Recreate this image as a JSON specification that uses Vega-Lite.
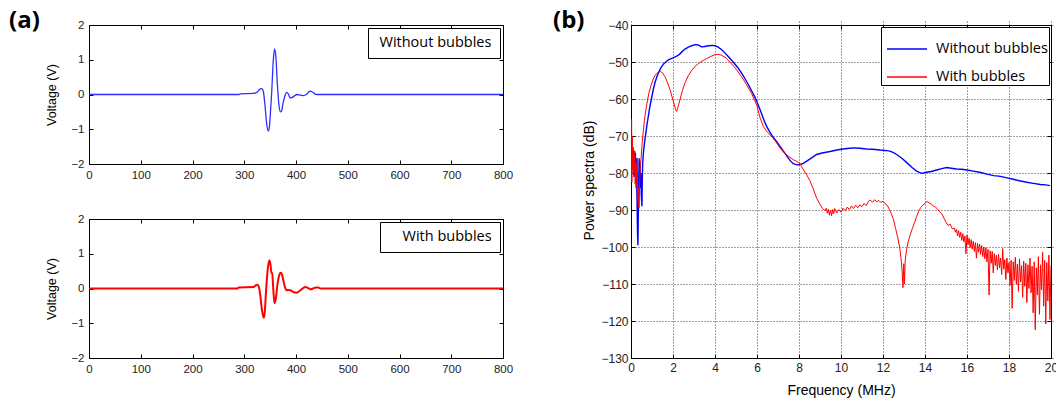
{
  "$schema": "https://vega.github.io/schema/vega-lite/v6.json",
  "padding": {"left": 8, "top": 8, "right": 0, "bottom": 0},
  "background": "white",
  "config": {
    "view": {"stroke": "#000", "strokeWidth": 1},
    "axis": {
      "labelFont": "Liberation Sans", "labelFontSize": 11.5, "labelColor": "#222",
      "titleFont": "Liberation Sans", "titleFontWeight": "normal", "titleColor": "#000",
      "tickColor": "#000", "domain": false, "labelFlush": false, "labelOverlap": false,
      "offset": -4, "tickSize": 4, "grid": false
    }
  },
  "datasets": {
    "a1": [
      {"t":0,"v":0},{"t":290,"v":0},{"t":292,"v":0.02},{"t":318,"v":0.03},{"t":326,"v":0.08},{"t":331,"v":0.16},{"t":334,"v":0.17},{"t":337,"v":0.08},{"t":340,"v":-0.3},{"t":343,"v":-0.8},{"t":346.5,"v":-1.05},{"t":348.5,"v":-0.95},{"t":350.5,"v":-0.55},{"t":353,"v":0.05},{"t":356,"v":0.95},{"t":358.5,"v":1.31},{"t":361,"v":1.1},{"t":364,"v":0.3},{"t":367,"v":-0.3},{"t":370,"v":-0.5},{"t":372,"v":-0.48},{"t":375,"v":-0.25},{"t":379,"v":-0.02},{"t":382,"v":0.06},{"t":385,"v":0.02},{"t":389,"v":-0.1},{"t":392,"v":-0.09},{"t":397,"v":-0.04},{"t":402,"v":0.0},{"t":408,"v":-0.02},{"t":414,"v":-0.03},{"t":420,"v":0.0},{"t":427,"v":0.1},{"t":431,"v":0.08},{"t":436,"v":0.02},{"t":440,"v":0.0},{"t":800,"v":0}
    ],
    "a2": [
      {"t":0,"v":0},{"t":287,"v":0},{"t":289,"v":0.03},{"t":318,"v":0.04},{"t":322,"v":0.09},{"t":325,"v":0.11},{"t":328,"v":0.06},{"t":331,"v":-0.2},{"t":334,"v":-0.6},{"t":337.5,"v":-0.84},{"t":339.5,"v":-0.7},{"t":342,"v":-0.1},{"t":345,"v":0.5},{"t":348.5,"v":0.81},{"t":351,"v":0.65},{"t":352.5,"v":0.45},{"t":354,"v":0.45},{"t":356,"v":0.0},{"t":358.5,"v":-0.42},{"t":361,"v":-0.3},{"t":364,"v":0.1},{"t":367,"v":0.35},{"t":370.5,"v":0.45},{"t":373,"v":0.4},{"t":376,"v":0.2},{"t":379,"v":0.02},{"t":382,"v":-0.05},{"t":386,"v":-0.04},{"t":391,"v":-0.06},{"t":396,"v":-0.11},{"t":401,"v":-0.12},{"t":406,"v":-0.08},{"t":412,"v":-0.01},{"t":418,"v":0.04},{"t":423,"v":0.02},{"t":428,"v":-0.02},{"t":433,"v":0.0},{"t":438,"v":0.03},{"t":443,"v":0.03},{"t":447,"v":0.0},{"t":800,"v":0}
    ],
    "bw": [
      {"f":0.05,"p":-74},{"f":0.07,"p":-79},{"f":0.09,"p":-73.5},{"f":0.11,"p":-80},{"f":0.13,"p":-74},{"f":0.15,"p":-81},{"f":0.17,"p":-75},{"f":0.19,"p":-79.5},{"f":0.21,"p":-74.5},{"f":0.23,"p":-80.5},{"f":0.25,"p":-76},{"f":0.27,"p":-82},{"f":0.29,"p":-88},{"f":0.31,"p":-96},{"f":0.33,"p":-99.5},{"f":0.35,"p":-90},{"f":0.37,"p":-81},{"f":0.39,"p":-76},{"f":0.41,"p":-82},{"f":0.43,"p":-77},{"f":0.45,"p":-84},{"f":0.47,"p":-80},{"f":0.49,"p":-86},{"f":0.52,"p":-89},{"f":0.54,"p":-81},{"f":0.56,"p":-77},{"f":0.6,"p":-74},{"f":0.65,"p":-71.5},{"f":0.7,"p":-69.5},{"f":0.76,"p":-67},{"f":0.83,"p":-64.5},{"f":0.9,"p":-62},{"f":0.98,"p":-59.8},{"f":1.06,"p":-57.5},{"f":1.14,"p":-55.6},{"f":1.22,"p":-54.2},{"f":1.3,"p":-53},{"f":1.42,"p":-51.6},{"f":1.54,"p":-50.6},{"f":1.66,"p":-50},{"f":1.78,"p":-49.4},{"f":1.94,"p":-49},{"f":2.1,"p":-48.6},{"f":2.22,"p":-48.3},{"f":2.33,"p":-47.8},{"f":2.45,"p":-47.1},{"f":2.57,"p":-46.5},{"f":2.73,"p":-46},{"f":2.89,"p":-45.6},{"f":3.05,"p":-45.3},{"f":3.2,"p":-45.4},{"f":3.35,"p":-45.9},{"f":3.5,"p":-45.8},{"f":3.7,"p":-45.6},{"f":3.85,"p":-45.5},{"f":4.0,"p":-45.6},{"f":4.15,"p":-46},{"f":4.32,"p":-46.7},{"f":4.48,"p":-47.6},{"f":4.63,"p":-48.5},{"f":4.8,"p":-49.6},{"f":4.95,"p":-50.6},{"f":5.11,"p":-51.7},{"f":5.3,"p":-53.3},{"f":5.5,"p":-55.2},{"f":5.7,"p":-57.3},{"f":5.9,"p":-59.5},{"f":6.05,"p":-61.5},{"f":6.22,"p":-64},{"f":6.35,"p":-66},{"f":6.46,"p":-67.4},{"f":6.6,"p":-68.8},{"f":6.75,"p":-70.2},{"f":6.94,"p":-71.5},{"f":7.1,"p":-72.8},{"f":7.25,"p":-74},{"f":7.41,"p":-75.3},{"f":7.57,"p":-76.6},{"f":7.73,"p":-77.5},{"f":7.9,"p":-77.8},{"f":8.05,"p":-77.7},{"f":8.2,"p":-77.4},{"f":8.37,"p":-76.8},{"f":8.6,"p":-75.9},{"f":8.84,"p":-75.0},{"f":9.1,"p":-74.6},{"f":9.48,"p":-74.2},{"f":9.8,"p":-73.8},{"f":10.1,"p":-73.5},{"f":10.4,"p":-73.3},{"f":10.6,"p":-73.2},{"f":10.9,"p":-73.3},{"f":11.2,"p":-73.5},{"f":11.5,"p":-73.6},{"f":11.86,"p":-73.8},{"f":12.1,"p":-73.9},{"f":12.33,"p":-74.1},{"f":12.5,"p":-74.5},{"f":12.65,"p":-75},{"f":12.9,"p":-76},{"f":13.13,"p":-77.2},{"f":13.4,"p":-78.6},{"f":13.6,"p":-79.5},{"f":13.84,"p":-80.1},{"f":14.08,"p":-79.8},{"f":14.3,"p":-79.6},{"f":14.55,"p":-79.2},{"f":14.8,"p":-78.8},{"f":15.03,"p":-78.5},{"f":15.25,"p":-78.7},{"f":15.5,"p":-78.9},{"f":15.75,"p":-79},{"f":16.0,"p":-79.2},{"f":16.3,"p":-79.5},{"f":16.6,"p":-79.8},{"f":16.95,"p":-80.3},{"f":17.27,"p":-80.7},{"f":17.6,"p":-80.9},{"f":17.9,"p":-81.3},{"f":18.2,"p":-81.7},{"f":18.5,"p":-82.1},{"f":18.85,"p":-82.5},{"f":19.16,"p":-82.8},{"f":19.5,"p":-83.1},{"f":19.75,"p":-83.2},{"f":19.95,"p":-83.4}
    ],
    "br": [
      {"f":0.03,"p":-65.5},{"f":0.04,"p":-82.5},{"f":0.06,"p":-70},{"f":0.08,"p":-79},{"f":0.1,"p":-73},{"f":0.12,"p":-81},{"f":0.14,"p":-75},{"f":0.16,"p":-80},{"f":0.18,"p":-74},{"f":0.2,"p":-83},{"f":0.22,"p":-77},{"f":0.24,"p":-84},{"f":0.26,"p":-78},{"f":0.28,"p":-82},{"f":0.3,"p":-76},{"f":0.32,"p":-85},{"f":0.34,"p":-88.5},{"f":0.36,"p":-84},{"f":0.38,"p":-89.5},{"f":0.4,"p":-86},{"f":0.42,"p":-81},{"f":0.44,"p":-78},{"f":0.48,"p":-76},{"f":0.53,"p":-72},{"f":0.59,"p":-68.5},{"f":0.64,"p":-65.8},{"f":0.7,"p":-63.2},{"f":0.78,"p":-60.5},{"f":0.86,"p":-58.2},{"f":0.96,"p":-56.2},{"f":1.06,"p":-54.6},{"f":1.14,"p":-53.7},{"f":1.22,"p":-53.1},{"f":1.32,"p":-52.7},{"f":1.41,"p":-52.6},{"f":1.5,"p":-52.9},{"f":1.62,"p":-54},{"f":1.74,"p":-55.6},{"f":1.86,"p":-57.5},{"f":1.96,"p":-59.5},{"f":2.05,"p":-61.3},{"f":2.12,"p":-62.8},{"f":2.17,"p":-63.4},{"f":2.22,"p":-62.5},{"f":2.33,"p":-60.2},{"f":2.45,"p":-57.7},{"f":2.57,"p":-55.6},{"f":2.73,"p":-53.7},{"f":2.89,"p":-52.3},{"f":3.05,"p":-51.2},{"f":3.21,"p":-50.4},{"f":3.4,"p":-49.7},{"f":3.6,"p":-49.1},{"f":3.8,"p":-48.5},{"f":4.0,"p":-48},{"f":4.15,"p":-47.9},{"f":4.32,"p":-48.2},{"f":4.55,"p":-49},{"f":4.79,"p":-50.5},{"f":5.03,"p":-52.1},{"f":5.27,"p":-54},{"f":5.5,"p":-56.1},{"f":5.75,"p":-58.6},{"f":6.0,"p":-61.8},{"f":6.14,"p":-65},{"f":6.3,"p":-67.4},{"f":6.5,"p":-69},{"f":6.7,"p":-70.1},{"f":6.9,"p":-71.6},{"f":7.1,"p":-73.3},{"f":7.3,"p":-74.6},{"f":7.5,"p":-75.5},{"f":7.73,"p":-76.4},{"f":7.9,"p":-76.9},{"f":8.05,"p":-77.5},{"f":8.2,"p":-79},{"f":8.37,"p":-80.5},{"f":8.52,"p":-82.1},{"f":8.7,"p":-84.6},{"f":8.84,"p":-86.8},{"f":9.0,"p":-88.5},{"f":9.12,"p":-89.6},{"f":9.24,"p":-90.2},{"f":9.3,"p":-89.5},{"f":9.35,"p":-90.9},{"f":9.4,"p":-89.8},{"f":9.45,"p":-91.4},{"f":9.5,"p":-90.0},{"f":9.55,"p":-91.6},{"f":9.6,"p":-89.9},{"f":9.65,"p":-91.0},{"f":9.7,"p":-89.6},{"f":9.8,"p":-90.8},{"f":9.9,"p":-89.9},{"f":10.0,"p":-90.6},{"f":10.1,"p":-89.5},{"f":10.2,"p":-90.2},{"f":10.3,"p":-89.2},{"f":10.4,"p":-89.9},{"f":10.5,"p":-88.9},{"f":10.6,"p":-89.6},{"f":10.7,"p":-88.7},{"f":10.8,"p":-89.4},{"f":10.9,"p":-88.6},{"f":11.0,"p":-89.1},{"f":11.1,"p":-88.2},{"f":11.2,"p":-88.8},{"f":11.3,"p":-87.7},{"f":11.4,"p":-87.3},{"f":11.5,"p":-87.9},{"f":11.6,"p":-87.2},{"f":11.7,"p":-87.8},{"f":11.8,"p":-87.4},{"f":11.9,"p":-88.0},{"f":12.0,"p":-87.6},{"f":12.1,"p":-88.3},{"f":12.2,"p":-88.7},{"f":12.3,"p":-89.8},{"f":12.4,"p":-91.0},{"f":12.5,"p":-92.6},{"f":12.6,"p":-95.0},{"f":12.7,"p":-97.4},{"f":12.8,"p":-100.3},{"f":12.86,"p":-103.2},{"f":12.91,"p":-106.5},{"f":12.95,"p":-111.0},{"f":12.99,"p":-104.5},{"f":13.02,"p":-110.0},{"f":13.06,"p":-103.5},{"f":13.12,"p":-100.8},{"f":13.2,"p":-98.6},{"f":13.3,"p":-96.6},{"f":13.4,"p":-95.0},{"f":13.5,"p":-93.4},{"f":13.6,"p":-91.8},{"f":13.7,"p":-90.3},{"f":13.8,"p":-89.3},{"f":13.9,"p":-88.7},{"f":14.0,"p":-88.2},{"f":14.1,"p":-87.7},{"f":14.2,"p":-88.1},{"f":14.3,"p":-88.4},{"f":14.4,"p":-88.9},{"f":14.5,"p":-89.2},{"f":14.6,"p":-89.8},{"f":14.7,"p":-90.5},{"f":14.8,"p":-91.0},{"f":14.9,"p":-92.2},{"f":15.0,"p":-93.3},{"f":15.1,"p":-94.2},{"f":15.2,"p":-93.8},{"f":15.3,"p":-95.1},{"f":15.4,"p":-94.9},{"f":15.45,"p":-96.0},
      {"f":15.5,"p":-95.2},{"f":15.55,"p":-97.0},{"f":15.6,"p":-95.6},{"f":15.65,"p":-97.4},{"f":15.7,"p":-96.0},{"f":15.75,"p":-98.2},{"f":15.8,"p":-96.4},{"f":15.85,"p":-98.6},{"f":15.9,"p":-97.0},{"f":15.95,"p":-101.8},{"f":16.0,"p":-96.8},{"f":16.05,"p":-99.4},{"f":16.1,"p":-97.6},{"f":16.15,"p":-100.2},{"f":16.2,"p":-98.0},{"f":16.25,"p":-100.6},{"f":16.3,"p":-98.4},{"f":16.35,"p":-101.2},{"f":16.4,"p":-98.8},{"f":16.45,"p":-103.0},{"f":16.5,"p":-99.0},{"f":16.55,"p":-101.4},{"f":16.6,"p":-99.2},{"f":16.65,"p":-102.0},{"f":16.7,"p":-99.6},{"f":16.75,"p":-102.6},{"f":16.8,"p":-100.0},{"f":16.85,"p":-103.2},{"f":16.9,"p":-100.2},{"f":16.95,"p":-104.0},{"f":17.0,"p":-100.6},{"f":17.05,"p":-113.0},{"f":17.1,"p":-101.0},{"f":17.15,"p":-104.4},{"f":17.2,"p":-101.2},{"f":17.25,"p":-107.0},{"f":17.3,"p":-101.8},{"f":17.35,"p":-105.0},{"f":17.4,"p":-102.2},{"f":17.45,"p":-106.2},{"f":17.5,"p":-102.0},{"f":17.55,"p":-105.6},{"f":17.6,"p":-103.0},{"f":17.65,"p":-107.4},{"f":17.7,"p":-100.4},{"f":17.75,"p":-106.0},{"f":17.8,"p":-103.4},{"f":17.85,"p":-108.8},{"f":17.9,"p":-103.0},{"f":17.95,"p":-107.0},{"f":18.0,"p":-104.2},{"f":18.05,"p":-110.4},{"f":18.1,"p":-103.6},{"f":18.15,"p":-116.6},{"f":18.2,"p":-104.0},{"f":18.25,"p":-109.0},{"f":18.3,"p":-102.8},{"f":18.35,"p":-110.0},{"f":18.4,"p":-104.6},{"f":18.45,"p":-112.0},{"f":18.5,"p":-103.2},{"f":18.55,"p":-109.4},{"f":18.6,"p":-105.0},{"f":18.65,"p":-113.6},{"f":18.7,"p":-103.8},{"f":18.75,"p":-110.6},{"f":18.8,"p":-104.4},{"f":18.85,"p":-115.0},{"f":18.9,"p":-104.8},{"f":18.95,"p":-111.2},{"f":19.0,"p":-103.0},{"f":19.05,"p":-112.4},{"f":19.1,"p":-105.2},{"f":19.15,"p":-117.8},{"f":19.2,"p":-104.0},{"f":19.25,"p":-122.4},{"f":19.3,"p":-105.6},{"f":19.35,"p":-113.0},{"f":19.4,"p":-102.6},{"f":19.45,"p":-118.2},{"f":19.5,"p":-104.8},{"f":19.55,"p":-111.6},{"f":19.6,"p":-101.4},{"f":19.65,"p":-116.0},{"f":19.7,"p":-103.6},{"f":19.75,"p":-120.8},{"f":19.8,"p":-104.2},{"f":19.85,"p":-114.6},{"f":19.9,"p":-102.2},{"f":19.95,"p":-119.6},{"f":20.0,"p":-105.0}
    ]
  },
  "spacing": 38,
  "resolve": {"scale": {"color": "independent"}, "legend": {"color": "independent"}},
  "hconcat": [
    {
      "bounds": "flush",
      "spacing": 55,
      "resolve": {"scale": {"color": "independent"}, "legend": {"color": "independent"}},
      "vconcat": [
        {
          "width": 414, "height": 139,
          "title": {"text": "(a)", "anchor": "start", "frame": "group", "dx": -80, "offset": -33, "baseline": "alphabetic", "font": "Open Sans", "fontSize": 24, "fontWeight": "bold", "color": "#000"},
          "data": {"name": "a1"},
          "layer": [
            {
              "mark": {"type": "line", "interpolate": "monotone", "strokeWidth": 1.3, "clip": true},
              "encoding": {
                "x": {"field": "t", "type": "quantitative", "scale": {"domain": [0, 800], "nice": false},
                      "axis": {"orient": "bottom", "values": [0,100,200,300,400,500,600,700,800], "labelPadding": 5, "title": null}},
                "y": {"field": "v", "type": "quantitative", "scale": {"domain": [-2, 2], "nice": false},
                      "axis": {"orient": "left", "values": [-2,-1,0,1,2], "labelPadding": 5, "title": "Voltage (V)", "titleFontSize": 12.5, "titlePadding": 12}},
                "color": {"datum": "Without bubbles", "type": "nominal", "scale": {"range": ["#2f2fff"]},
                          "legend": {"orient": "top-right", "offset": 3, "title": null, "symbolSize": 0, "symbolStrokeWidth": 0, "symbolOpacity": 0, "labelFont": "Open Sans", "labelFontSize": 14.5, "labelColor": "#000", "strokeColor": "#000", "fillColor": "#fff", "padding": 8, "labelOffset": -11}}
              }
            },
            {
              "mark": {"type": "line", "opacity": 0},
              "encoding": {
                "x": {"field": "t", "type": "quantitative", "axis": {"orient": "top", "values": [0,100,200,300,400,500,600,700,800], "labels": false, "title": null}},
                "y": {"field": "v", "type": "quantitative", "axis": {"orient": "right", "values": [-2,-1,0,1,2], "labels": false, "title": null}}
              }
            }
          ],
          "resolve": {"axis": {"x": "independent", "y": "independent"}}
        },
        {
          "width": 414, "height": 139,
          "data": {"name": "a2"},
          "layer": [
            {
              "mark": {"type": "line", "interpolate": "monotone", "strokeWidth": 2, "clip": true},
              "encoding": {
                "x": {"field": "t", "type": "quantitative", "scale": {"domain": [0, 800], "nice": false},
                      "axis": {"orient": "bottom", "values": [0,100,200,300,400,500,600,700,800], "labelPadding": 5, "title": null}},
                "y": {"field": "v", "type": "quantitative", "scale": {"domain": [-2, 2], "nice": false},
                      "axis": {"orient": "left", "values": [-2,-1,0,1,2], "labelPadding": 5, "title": "Voltage (V)", "titleFontSize": 12.5, "titlePadding": 12}},
                "color": {"datum": "With bubbles", "type": "nominal", "scale": {"range": ["#ff0000"]},
                          "legend": {"orient": "top-right", "offset": 3, "title": null, "symbolSize": 0, "symbolStrokeWidth": 0, "symbolOpacity": 0, "labelFont": "Open Sans", "labelFontSize": 14.5, "labelColor": "#000", "strokeColor": "#000", "fillColor": "#fff", "padding": 8, "labelOffset": 0}}
              }
            },
            {
              "mark": {"type": "line", "opacity": 0},
              "encoding": {
                "x": {"field": "t", "type": "quantitative", "axis": {"orient": "top", "values": [0,100,200,300,400,500,600,700,800], "labels": false, "title": null}},
                "y": {"field": "v", "type": "quantitative", "axis": {"orient": "right", "values": [-2,-1,0,1,2], "labels": false, "title": null}}
              }
            }
          ],
          "resolve": {"axis": {"x": "independent", "y": "independent"}}
        }
      ]
    },
    {
      "width": 420, "height": 333,
      "title": {"text": "(b)", "anchor": "start", "frame": "group", "dx": -78, "offset": -33, "baseline": "alphabetic", "font": "Open Sans", "fontSize": 24, "fontWeight": "bold", "color": "#000"},
      "layer": [
        {
          "data": {"name": "bw"},
          "mark": {"type": "line", "strokeWidth": 1.4, "clip": true},
          "encoding": {
            "x": {"field": "f", "type": "quantitative", "scale": {"domain": [0, 20], "nice": false},
                  "axis": {"orient": "bottom", "values": [0,2,4,6,8,10,12,14,16,18,20], "grid": true, "gridDash": [1, 2], "gridColor": "#000", "gridOpacity": 0.75, "labelFontSize": 12, "labelPadding": 4, "title": "Frequency  (MHz)", "titleFontSize": 14, "titlePadding": 10}},
            "y": {"field": "p", "type": "quantitative", "scale": {"domain": [-130, -40], "nice": false},
                  "axis": {"orient": "left", "values": [-130,-120,-110,-100,-90,-80,-70,-60,-50,-40], "grid": true, "gridDash": [1, 2], "gridColor": "#000", "gridOpacity": 0.75, "labelFontSize": 12, "labelPadding": 3, "title": "Power spectra (dB)", "titleFontSize": 14, "titlePadding": 4, "titleY": 155}},
            "color": {"datum": "Without bubbles", "type": "nominal", "scale": {"domain": ["Without bubbles", "With bubbles"], "range": ["#0000ff", "#ff0000"]},
                      "legend": {"orient": "top-right", "offset": 2, "title": null, "symbolType": "stroke", "symbolSize": 1600, "symbolStrokeWidth": 1.6, "symbolOffset": 4, "labelFont": "Open Sans", "labelFontSize": 14.5, "labelColor": "#000", "strokeColor": "#000", "fillColor": "#fff", "padding": 1, "rowPadding": -7, "labelOffset": 8}}
          }
        },
        {
          "data": {"name": "br"},
          "mark": {"type": "line", "strokeWidth": 1, "clip": true},
          "encoding": {
            "x": {"field": "f", "type": "quantitative", "axis": null},
            "y": {"field": "p", "type": "quantitative", "axis": null},
            "color": {"datum": "With bubbles", "type": "nominal"}
          }
        },
        {
          "data": {"name": "bw"},
          "mark": {"type": "line", "opacity": 0},
          "encoding": {
            "x": {"field": "f", "type": "quantitative", "axis": {"orient": "top", "values": [0,2,4,6,8,10,12,14,16,18,20], "labels": false, "title": null}},
            "y": {"field": "p", "type": "quantitative", "axis": {"orient": "right", "values": [-130,-120,-110,-100,-90,-80,-70,-60,-50,-40], "labels": false, "title": null}}
          }
        }
      ],
      "resolve": {"axis": {"x": "independent", "y": "independent"}}
    }
  ]
}
